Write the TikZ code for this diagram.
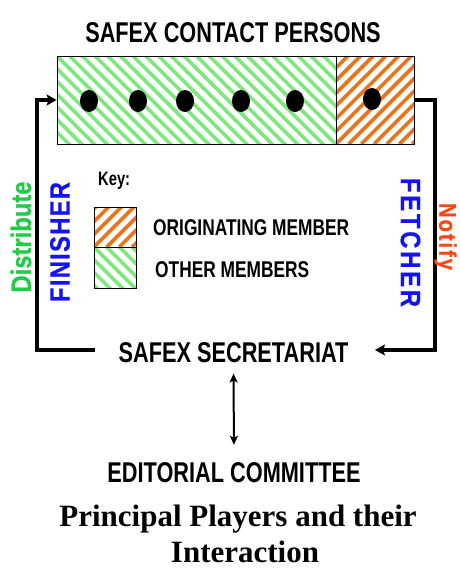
\documentclass[tikz,border=0pt]{standalone}
\usepackage{fontspec}
\setmainfont{Liberation Serif}
\newfontfamily\nar[FakeStretch=0.76]{Liberation Sans}
\newfontfamily\side[FakeStretch=0.85,FakeBold=0.6]{Liberation Sans}
\usetikzlibrary{arrows.meta,shapes.geometric}
\definecolor{hgreen}{RGB}{125,232,125}
\definecolor{horange}{RGB}{235,115,25}
\definecolor{dgreen}{RGB}{30,205,70}
\definecolor{fblue}{RGB}{20,20,240}
\definecolor{nred}{RGB}{255,70,20}
\tikzset{
  greenhatch/.style={path picture={\foreach \i in {-12,...,30}{\draw[hgreen,line width=3.6pt] ([xshift=\i*12.7pt]path picture bounding box.north west) -- ++(120pt,-120pt);}}},
  orangehatch/.style={path picture={\foreach \i in {-12,...,30}{\draw[horange,line width=3.6pt] ([xshift=\i*12.7pt]path picture bounding box.south west) -- ++(120pt,120pt);}}},
  box/.style={draw=black,line width=0.8pt,inner sep=0pt},
  member/.style={ellipse,fill=black,minimum width=18pt,minimum height=22pt,inner sep=0pt},
  big/.style={font=\nar\bfseries\fontsize{28.6}{30}\selectfont,inner sep=0pt},
  keytext/.style={font=\nar\bfseries\fontsize{22.8}{25}\selectfont,inner sep=0pt,anchor=base west},
  conn/.style={line width=3.5pt},
  tip/.style={-{Stealth[length=10pt,width=11pt,inset=2pt]}},
  dbl/.style={line width=2pt,{Stealth[length=9pt,width=8pt,inset=2pt]}-{Stealth[length=9pt,width=8pt,inset=2pt]}},
  ttl/.style={font=\bfseries\fontsize{31}{37}\selectfont,inner sep=0pt,anchor=base}
}
\begin{document}
\begin{tikzpicture}[x=1pt,y=-1pt]
\useasboundingbox (0,0) rectangle (459,571);
% title
\node[big,anchor=base] (head) at (233,42) {SAFEX CONTACT PERSONS};
% member boxes
\node[box,greenhatch,minimum width=279pt,minimum height=88pt] (others) at (196.5,100) {};
\node[box,orangehatch,minimum width=78pt,minimum height=88pt] (orig) at (375,100) {};
\foreach \n/\x/\y in {m1/89/101,m2/138/101,m3/185/101,m4/241/101,m5/295/101,m6/372/99}
  \node[member] (\n) at (\x,\y) {};
% secretariat and editorial committee
\node[big,anchor=base] (sec) at (233.5,362) {SAFEX SECRETARIAT};
\node[big,anchor=base] (edit) at (234,482) {EDITORIAL COMMITTEE};
% connectors
\coordinate (lA) at (95,350);
\coordinate (lB) at (37,350);
\draw[conn,tip] (lA) -- (lB) |- (others.west);
\coordinate (rB) at (435,100);
\coordinate (rA) at (375,350);
\draw[conn,tip] (orig.east) -- (rB) |- (rA);
\draw[dbl,shorten <=11pt,shorten >=17pt] (sec.south) -- (edit.north);
% side labels
\node[rotate=90,font={\side\bfseries\fontsize{28}{30}\selectfont},text=dgreen,inner sep=0pt] (distribute) at (21,237) {Distribute};
\node[rotate=90,font={\side\bfseries\fontsize{28}{30}\selectfont\addfontfeature{LetterSpace=4.6}},text=fblue,inner sep=0pt] (finisher) at (60,242) {FINISHER};
\node[rotate=-90,font={\side\bfseries\fontsize{28}{30}\selectfont\addfontfeature{LetterSpace=10}},text=fblue,inner sep=0pt] (fetcher) at (410.5,242.5) {FETCHER};
\node[rotate=-90,font={\side\bfseries\fontsize{24}{26}\selectfont\addfontfeature{LetterSpace=7.7}},text=nred,inner sep=0pt] (notify) at (445.5,236.5) {Notify};
% key
\node[font=\nar\bfseries\fontsize{19.4}{21}\selectfont,inner sep=0pt,anchor=base west] (key) at (98,185) {Key:};
\node[box,orangehatch,minimum width=42pt,minimum height=40pt] (korig) at (115,227) {};
\node[box,greenhatch,minimum width=42pt,minimum height=41pt] (kother) at (115,267.5) {};
\node[keytext] (lorig) at (153,235) {ORIGINATING MEMBER};
\node[keytext] (lother) at (155,277) {OTHER MEMBERS};
% caption
\node[ttl] (cap1) at (238,526) {Principal Players and their};
\node[ttl] (cap2) at (245,562) {Interaction};
\end{tikzpicture}
\end{document}
